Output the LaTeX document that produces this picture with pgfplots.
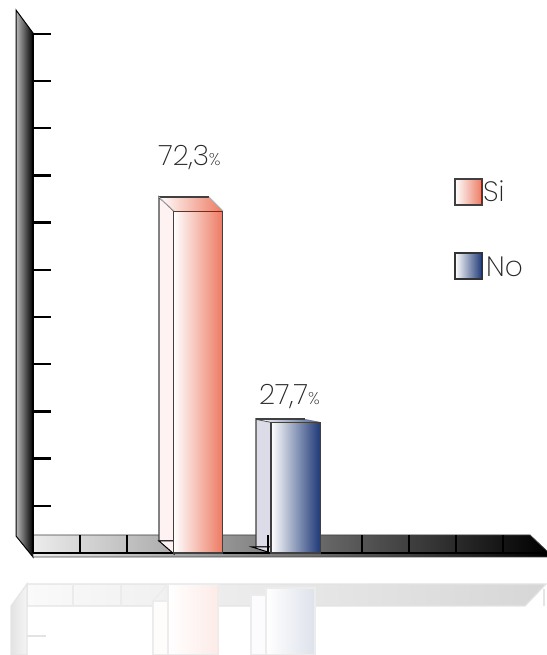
\documentclass[border=0pt]{standalone}
\usepackage{pgfplots}
\pgfplotsset{compat=1.18}
\usepackage{fontspec}
\setmainfont{Poppins ExtraLight}
\definecolor{txt}{HTML}{404040}
\definecolor{redR}{HTML}{EE7A62}
\definecolor{bluR}{HTML}{1F3A78}
\definecolor{bluM}{HTML}{A8A8C8}
\begin{document}
\begin{tikzpicture}[x=1pt,y=1pt]
\useasboundingbox (0,0) rectangle (546,655);
\begin{scope}[yscale=-1,yshift=-655pt]
  % reflection
  \shade[left color=gray!4,right color=gray!32,draw=gray!22,line width=1.2] (27,584)--(546,584)--(525,606)--(27,606)--cycle;
  \foreach \x in {73,121}{\draw[gray!16,line width=1.2](\x,584)--(\x,606);}
  \shade[left color=gray!22,right color=gray!8,draw=gray!20,line width=1.2] (11,606)--(27,584)--(27,655)--(11,655)--cycle;
  \draw[gray!22,line width=1.5](27,636)--(46,636);
  \draw[gray!20,line width=1.2](544,589)--(544,606);
  \filldraw[fill=red!1,draw=gray!15,line width=1.2](153,601)--(168,601)--(168,655)--(153,655)--cycle;
  \draw[gray!15,line width=1.2](153,601)--(168,584);
  \shade[left color=white,right color=redR!15,draw=gray!15,line width=1.2](168,584)--(218,584)--(218,655)--(168,655)--cycle;
  \filldraw[fill=blue!1,draw=gray!15,line width=1.2](251,595)--(266,595)--(266,655)--(251,655)--cycle;
  \draw[gray!15,line width=1.2](246,593)--(266,588);
  \shade[left color=white,right color=bluR!15,draw=gray!15,line width=1.2](266,588)--(315,588)--(315,655)--(266,655)--cycle;
  % wall and floor
  \shade[left color=gray!55,right color=black,draw=black,line width=1](16,10)--(33,33)--(33,557)--(16,536)--cycle;
  \shade[left color=gray!15,right color=black,draw=gray!50!black,line width=.8](33,535)--(530,535)--(548,552)--(548,557)--(33,557)--cycle;
  % 3D back faces of the bars
  \filldraw[fill=red!5,draw=txt,line width=1.4](159,197)--(174,211)--(174,541)--(159,541)--cycle;
  \filldraw[fill=red!5,draw=black,line width=1](159,541)--(174,541)--(174,554)--cycle;
  \shade[left color=white,right color=redR,draw=none](159,197)--(209,197)--(223,211)--(174,211)--cycle;
  \draw[txt,line width=1.4](159,197)--(209,197);
  \draw[gray!60,line width=.8](159,197)--(174,211) (209,197)--(223,211);
  \filldraw[fill=bluM!40,draw=txt,line width=1.4](256,419)--(271,422)--(271,547)--(256,547)--cycle;
  \filldraw[fill=bluM!40,draw=black,line width=1](252,547)--(271,547)--(271,553)--cycle;
  \shade[left color=white,right color=bluR!80,draw=none](256,419)--(305,419)--(320,422)--(271,422)--cycle;
  \draw[txt,line width=1.4](256,419)--(305,419);
  % legend
  \shade[left color=white,right color=redR,draw=txt,line width=1.6](455,179) rectangle (482,205);
  \shade[left color=white,middle color=bluM,right color=bluR,draw=black!80,line width=1.6](455,253) rectangle (482,279);
  \node[anchor=west,text=black!85,font=\fontsize{28}{28}\selectfont,inner sep=0] at (483,191) {Si};
  \node[anchor=west,text=black!85,font=\fontsize{28}{28}\selectfont,inner sep=0] at (486,267) {No};
\end{scope}
\begin{axis}[
  at={(33pt,102pt)},anchor=origin,
  scale only axis,width=513pt,height=519.2pt,
  xmin=33,xmax=546,ymin=0,ymax=110,
  clip=false,
  axis x line=bottom,axis y line=left,
  axis line style={black,line width=2.6,-},
  xtick={33,80,127,174,221,268,315,362,409,456,503},
  ytick={10,20,30,40,50,60,70,80,90,100,110},
  xticklabels={},yticklabels={},
  tick align=inside,major tick length=18pt,
  xtick style={black,line width=1.6},
  ytick style={black,line width=2.3},
  ]
\addplot[ybar,bar width=49pt,draw=txt,line width=1.4,left color=white,right color=redR] coordinates {(198,72.3)};
\addplot[ybar,bar width=49pt,draw=txt,line width=1.4,left color=white,middle color=bluM,right color=bluR] coordinates {(295.5,27.7)};
\node[text=black!85,inner sep=0] at (axis cs:189.5,83.7) {\fontsize{28}{28}\selectfont 72,3\fontsize{17}{17}\selectfont\%};
\node[text=black!85,inner sep=0] at (axis cs:289.5,33.2) {\fontsize{28}{28}\selectfont 27,7\fontsize{17}{17}\selectfont\%};
\end{axis}
\end{tikzpicture}
\end{document}
